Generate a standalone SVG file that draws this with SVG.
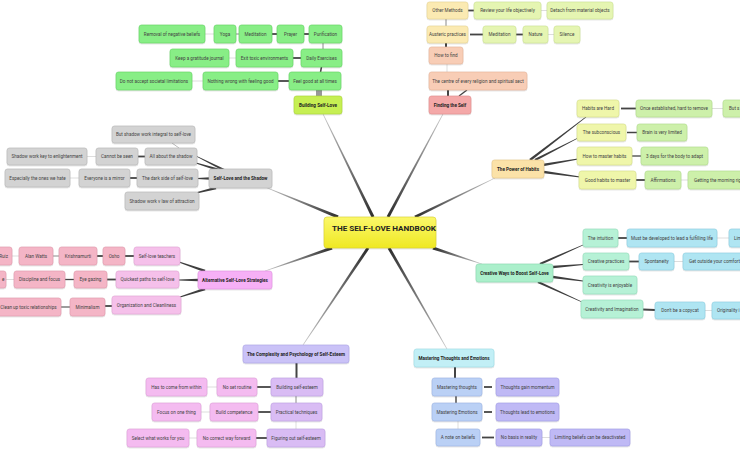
<svg xmlns="http://www.w3.org/2000/svg" width="740" height="460" viewBox="0 0 740 460">
<defs>
<filter id="sh" x="-10%" y="-30%" width="120%" height="170%"><feDropShadow dx="0" dy="0.6" stdDeviation="0.6" flood-color="#000" flood-opacity="0.25"/></filter>
<linearGradient id="gRoot" x1="0" y1="0" x2="0" y2="1"><stop offset="0" stop-color="#fbf86a"/><stop offset="1" stop-color="#efe823"/></linearGradient>
<linearGradient id="m1" gradientUnits="userSpaceOnUse" x1="373" y1="217" x2="323" y2="114"><stop offset="0" stop-color="#2e2e2e"/><stop offset="1" stop-color="#c8c8c8"/></linearGradient>
<linearGradient id="m2" gradientUnits="userSpaceOnUse" x1="388" y1="217" x2="443" y2="114"><stop offset="0" stop-color="#2e2e2e"/><stop offset="1" stop-color="#c8c8c8"/></linearGradient>
<linearGradient id="m3" gradientUnits="userSpaceOnUse" x1="415" y1="217" x2="495" y2="178"><stop offset="0" stop-color="#2e2e2e"/><stop offset="1" stop-color="#c8c8c8"/></linearGradient>
<linearGradient id="m4" gradientUnits="userSpaceOnUse" x1="338" y1="217" x2="265" y2="187"><stop offset="0" stop-color="#2e2e2e"/><stop offset="1" stop-color="#c8c8c8"/></linearGradient>
<linearGradient id="m5" gradientUnits="userSpaceOnUse" x1="332" y1="248" x2="265" y2="271"><stop offset="0" stop-color="#2e2e2e"/><stop offset="1" stop-color="#c8c8c8"/></linearGradient>
<linearGradient id="m6" gradientUnits="userSpaceOnUse" x1="368" y1="248" x2="303" y2="345"><stop offset="0" stop-color="#2e2e2e"/><stop offset="1" stop-color="#c8c8c8"/></linearGradient>
<linearGradient id="m7" gradientUnits="userSpaceOnUse" x1="389" y1="248" x2="447" y2="349"><stop offset="0" stop-color="#2e2e2e"/><stop offset="1" stop-color="#c8c8c8"/></linearGradient>
<linearGradient id="m8" gradientUnits="userSpaceOnUse" x1="433" y1="248" x2="482" y2="264"><stop offset="0" stop-color="#2e2e2e"/><stop offset="1" stop-color="#c8c8c8"/></linearGradient>
</defs>
<style>
text{font-family:Roboto,"Liberation Sans",Arial,sans-serif;font-size:4.6px;fill:#444;text-anchor:middle}
.b text{font-weight:bold;fill:#222}
.node rect{rx:2.5px;ry:2.5px;stroke-width:0.6;filter:url(#sh)}
.root rect{fill:url(#gRoot);stroke:#d9d22e;rx:3px;ry:3px}
.root text{font-size:8.1px;font-weight:bold;fill:#222;text-anchor:start}
.l1bsl rect{fill:#c6ef52;stroke:#a7d43a}
.green rect{fill:#88ee86;stroke:#62d360}
.l1find rect{fill:#f4a8a8;stroke:#e08c8c}
.peach rect{fill:#f8cdb6;stroke:#e6b398}
.yel rect{fill:#fbeab2;stroke:#e6d391}
.lgy rect{fill:#e5f5b2;stroke:#cbe291}
.l1hab rect{fill:#fbe2a8;stroke:#e6c888}
.hy rect{fill:#eff6aa;stroke:#d5df88}
.hg rect{fill:#cdf0aa;stroke:#b0db8a}
.gray rect{fill:#d3d3d3;stroke:#b5b5b5}
.l1alt rect{fill:#f6b0f6;stroke:#e092e0}
.pv rect{fill:#f5c0ea;stroke:#e0a2d4}
.pink rect{fill:#f4b5c6;stroke:#e098ab}
.l1cre rect{fill:#abefcb;stroke:#88d9ae}
.mint rect{fill:#b6f1d6;stroke:#92dcb8}
.cyan rect{fill:#afe5f2;stroke:#8acfe0}
.l1cpx rect{fill:#cac2f7;stroke:#aaa2e6}
.lp rect{fill:#d9bcf4;stroke:#be9ee3}
.pv2 rect{fill:#f4bbf0;stroke:#dd9dd9}
.l1mte rect{fill:#c2eff6;stroke:#9bdbe6}
.lb rect{fill:#bad0f5;stroke:#9ab4e4}
.peri rect{fill:#bfb9f5;stroke:#a09ae6}
.k{stroke:#444;stroke-width:1.8;fill:none}
.m{stroke:#8a8a8a;stroke-width:1;fill:none}
.t{stroke:#d4d4d4;stroke-width:0.8;fill:none}
.tp{fill:#3e3e3e}
</style>
<rect x="0" y="0" width="740" height="460" fill="#ffffff"/>
<g id="connectors">
<polygon fill="url(#m1)" points="374.35,216.34 323.27,113.87 322.73,114.13 371.65,217.66"/>
<polygon fill="url(#m2)" points="389.32,217.71 443.26,114.14 442.74,113.86 386.68,216.29"/>
<polygon fill="url(#m3)" points="415.66,218.35 495.13,178.27 494.87,177.73 414.34,215.65"/>
<polygon fill="url(#m4)" points="338.57,215.61 265.11,186.72 264.89,187.28 337.43,218.39"/>
<polygon fill="url(#m5)" points="331.51,246.58 264.9,270.72 265.1,271.28 332.49,249.42"/>
<polygon fill="url(#m6)" points="366.75,247.16 302.75,344.83 303.25,345.17 369.25,248.84"/>
<polygon fill="url(#m7)" points="387.7,248.75 446.74,349.15 447.26,348.85 390.3,247.25"/>
<polygon fill="url(#m8)" points="432.53,249.43 481.91,264.29 482.09,263.71 433.47,246.57"/>
<polygon class="tp" points="530.73,160.95 586.24,117.32 585.76,116.68 529.27,159.05"/>
<polygon class="tp" points="535.55,161.07 578.18,138.36 577.82,137.64 534.45,158.93"/>
<polygon class="tp" points="543.2,166.18 578.07,159.39 577.93,158.61 542.8,163.82"/>
<polygon class="tp" points="543.83,173.19 579.94,177.4 580.06,176.6 544.17,170.81"/>
<polygon class="tp" points="224.54,168.93 196.18,155.64 195.82,156.36 223.46,171.07"/>
<polygon class="tp" points="219.35,168.85 196.12,162.62 195.88,163.38 218.65,171.15"/>
<polygon class="tp" points="210,177.3 197,178.1 197,178.9 210,179.7"/>
<polygon class="tp" points="215.71,186.83 191.9,193.61 192.1,194.39 216.29,189.17"/>
<polygon class="tp" points="205.39,269.87 179.13,261.62 178.87,262.38 204.61,272.13"/>
<polygon class="tp" points="198,278.8 179,279.6 179,280.4 198,281.2"/>
<polygon class="tp" points="204.63,287.86 179.88,296.62 180.12,297.38 205.37,290.14"/>
<polygon class="tp" points="540.48,265.1 583.16,245.37 582.84,244.63 539.52,262.9"/>
<polygon class="tp" points="553,265.8 583,264.1 583,264.9 553,268.2"/>
<polygon class="tp" points="552.84,278.19 582.95,281.4 583.05,280.6 553.16,275.81"/>
<polygon class="tp" points="537.5,283.09 581.83,302.36 582.17,301.64 538.5,280.91"/>
<!-- Building Self-Love -->
<line class="k" style="stroke-width:1.1" x1="317" y1="90" x2="317" y2="96"/>
<line class="k" style="stroke-width:1.1" x1="319" y1="90" x2="319" y2="96"/>
<line class="k" style="stroke-width:1.1" x1="321" y1="90" x2="321" y2="96"/>
<line class="k" style="stroke-width:1.5" x1="320.5" y1="72" x2="321.5" y2="67"/>
<line class="m" x1="323" y1="43" x2="323" y2="49"/>
<line class="k" x1="304" y1="34" x2="309" y2="34"/>
<line class="k" x1="272" y1="34" x2="277" y2="34"/>
<line class="m" x1="236" y1="34" x2="239" y2="34"/>
<line class="t" x1="205" y1="34" x2="214" y2="34"/>
<line class="k" x1="293" y1="58" x2="301" y2="58"/>
<line class="t" x1="229" y1="58" x2="236" y2="58"/>
<line class="k" x1="278" y1="81" x2="289" y2="81"/>
<line class="t" x1="192" y1="81" x2="203" y2="81"/>
<!-- Finding the Self -->
<line class="k" style="stroke-width:2" x1="448" y1="90" x2="448" y2="96"/>
<line class="k" style="stroke-width:1.3" x1="459" y1="96" x2="467" y2="90"/>
<line class="t" x1="447" y1="64" x2="447" y2="72"/>
<line class="k" style="stroke-width:2" x1="446" y1="43" x2="446" y2="47"/>
<line class="m" x1="446" y1="19" x2="446" y2="26"/>
<line class="k" x1="470" y1="34.5" x2="483" y2="34.5"/>
<line class="k" x1="516" y1="34.5" x2="523" y2="34.5"/>
<line class="t" x1="548" y1="34.5" x2="554" y2="34.5"/>
<line class="k" x1="468" y1="10.5" x2="474" y2="10.5"/>
<line class="t" x1="541" y1="10.5" x2="547" y2="10.5"/>
<!-- Power of Habits -->
<line class="k" x1="621" y1="108.5" x2="636" y2="108.5"/>
<line class="t" x1="712" y1="108.5" x2="723" y2="108.5"/>
<line class="k" style="stroke-width:1.5" x1="627" y1="132.5" x2="637" y2="132.5"/>
<line class="k" style="stroke-width:1.3" x1="632" y1="156" x2="641" y2="156"/>
<line class="k" x1="636" y1="180" x2="645" y2="180"/>
<line class="t" x1="681" y1="180" x2="688" y2="180"/>
<!-- Shadow -->
<line class="m" style="stroke:#bbb" x1="172" y1="143" x2="179" y2="148"/>
<line class="k" x1="138" y1="156.5" x2="145" y2="156.5"/>
<line class="t" x1="87" y1="156.5" x2="96" y2="156.5"/>
<line class="k" x1="130" y1="178" x2="137" y2="178"/>
<line class="t" x1="70" y1="178" x2="79" y2="178"/>
<!-- Alternative -->
<line class="k" x1="125" y1="256" x2="134" y2="256"/>
<line class="k" x1="97" y1="256" x2="103" y2="256"/>
<line class="m" x1="53" y1="256" x2="59" y2="256"/>
<line class="t" x1="12" y1="256" x2="19" y2="256"/>
<line class="k" x1="107" y1="279.5" x2="116" y2="279.5"/>
<line class="k" style="stroke-width:1.3" x1="65" y1="279.5" x2="74" y2="279.5"/>
<line class="t" x1="6" y1="279.5" x2="14" y2="279.5"/>
<line class="k" x1="105" y1="306" x2="112" y2="306"/>
<line class="k" style="stroke:#666;stroke-width:1.3" x1="61" y1="307" x2="70" y2="307"/>
<!-- Creative -->
<line class="k" x1="618" y1="238" x2="627" y2="238"/>
<line class="t" x1="717" y1="238" x2="729" y2="238"/>
<line class="k" x1="629" y1="261.5" x2="639" y2="261.5"/>
<line class="t" x1="674" y1="261.5" x2="683" y2="261.5"/>
<line class="k" x1="643" y1="309.5" x2="655" y2="310"/>
<line class="t" x1="705" y1="310.5" x2="712" y2="310.5"/>
<!-- Complexity -->
<line class="k" style="stroke-width:2" x1="296.5" y1="363" x2="296.5" y2="378"/>
<line class="m" x1="296" y1="396" x2="296" y2="403"/>
<line class="t" x1="296" y1="421" x2="296" y2="429"/>
<line class="k" x1="257" y1="387" x2="271" y2="387"/>
<line class="t" x1="207" y1="387" x2="217" y2="387"/>
<line class="k" x1="258" y1="412" x2="271" y2="412"/>
<line class="t" x1="201" y1="412" x2="210" y2="412"/>
<line class="k" x1="256" y1="438" x2="267" y2="438"/>
<line class="t" x1="189" y1="438" x2="197" y2="438"/>
<!-- Mastering -->
<line class="k" style="stroke-width:2" x1="455" y1="367" x2="455" y2="378"/>
<line class="k" style="stroke-width:1.4" x1="456" y1="396" x2="456" y2="403"/>
<line class="t" x1="458" y1="421" x2="458" y2="429"/>
<line class="k" x1="484" y1="387" x2="492" y2="387"/>
<line class="k" x1="484" y1="412" x2="492" y2="412"/>
<line class="k" x1="482" y1="437.5" x2="494" y2="437.5"/>
<line class="t" x1="542" y1="437.5" x2="550" y2="437.5"/>
</g>

<g id="root" class="node root"><rect x="324" y="217" width="112" height="31"/><text x="332" y="231">THE SELF-LOVE HANDBOOK</text></g>

<g id="building-self-love" class="node l1bsl b"><rect x="294" y="96" width="48" height="18"/><text x="318" y="106.6">Building Self-Love</text></g>
<g id="feel-good" class="node green"><rect x="289" y="72" width="52" height="18"/><text x="315" y="82.6">Feel good at all times</text></g>
<g id="nothing-wrong" class="node green"><rect x="203" y="72" width="75" height="18"/><text x="240.5" y="82.6">Nothing wrong with feeling good</text></g>
<g id="do-not-accept" class="node green"><rect x="116" y="72" width="76" height="18"/><text x="154" y="82.6">Do not accept societal limitations</text></g>
<g id="daily-exercises" class="node green"><rect x="301" y="49" width="41" height="18"/><text x="321.5" y="59.6">Daily Exercises</text></g>
<g id="exit-toxic" class="node green"><rect x="236" y="49" width="57" height="18"/><text x="264.5" y="59.6">Exit toxic environments</text></g>
<g id="gratitude-journal" class="node green"><rect x="170" y="49" width="59" height="18"/><text x="199.5" y="59.6">Keep a gratitude journal</text></g>
<g id="purification" class="node green"><rect x="309" y="25" width="33" height="18"/><text x="325.5" y="35.6">Purification</text></g>
<g id="prayer" class="node green"><rect x="277" y="25" width="27" height="18"/><text x="290.5" y="35.6">Prayer</text></g>
<g id="meditation-1" class="node green"><rect x="239" y="25" width="33" height="18"/><text x="255.5" y="35.6">Meditation</text></g>
<g id="yoga" class="node green"><rect x="214" y="25" width="22" height="18"/><text x="225" y="35.6">Yoga</text></g>
<g id="removal" class="node green"><rect x="139" y="25" width="66" height="18"/><text x="172" y="35.6">Removal of negative beliefs</text></g>

<g id="finding-the-self" class="node l1find b"><rect x="429" y="96" width="42" height="18"/><text x="450" y="106.6">Finding the Self</text></g>
<g id="centre" class="node peach"><rect x="429" y="72" width="98" height="18"/><text x="478" y="82.6">The centre of every religion and spiritual sect</text></g>
<g id="how-to-find" class="node peach"><rect x="429" y="47" width="34" height="17"/><text x="446" y="57.1">How to find</text></g>
<g id="austeric" class="node yel"><rect x="427" y="26" width="41" height="17"/><text x="447.5" y="36.1">Austeric practices</text></g>
<g id="other-methods" class="node yel"><rect x="427" y="2" width="41" height="17"/><text x="447.5" y="12.1">Other Methods</text></g>
<g id="review" class="node lgy"><rect x="474" y="2" width="67" height="17"/><text x="507.5" y="12.1">Review your life objectively</text></g>
<g id="detach" class="node lgy"><rect x="547" y="2" width="66" height="17"/><text x="580" y="12.1">Detach from material objects</text></g>
<g id="meditation-2" class="node lgy"><rect x="483" y="26" width="33" height="17"/><text x="499.5" y="36.1">Meditation</text></g>
<g id="nature" class="node lgy"><rect x="523" y="26" width="25" height="17"/><text x="535.5" y="36.1">Nature</text></g>
<g id="silence" class="node lgy"><rect x="554" y="26" width="26" height="17"/><text x="567" y="36.1">Silence</text></g>

<g id="power-of-habits" class="node l1hab b"><rect x="492" y="160" width="52" height="18"/><text x="518" y="170.6">The Power of Habits</text></g>
<g id="habits-hard" class="node hy"><rect x="577" y="100" width="42" height="17"/><text x="598" y="110.1">Habits are Hard</text></g>
<g id="once-established" class="node hg"><rect x="636" y="100" width="76" height="17"/><text x="674" y="110.1">Once established, hard to remove</text></g>
<g id="but-s" class="node hg"><rect x="723" y="100" width="40" height="17"/><text x="729" y="110.1" style="text-anchor:start">But s</text></g>
<g id="subconscious" class="node hy"><rect x="577" y="124" width="49" height="17"/><text x="601.5" y="134.1">The subconscious</text></g>
<g id="brain" class="node hg"><rect x="637" y="124" width="50" height="17"/><text x="662" y="134.1">Brain is very limited</text></g>
<g id="master-habits" class="node hy"><rect x="577" y="147" width="55" height="18"/><text x="604.5" y="157.6">How to master habits</text></g>
<g id="three-days" class="node hg"><rect x="641" y="147" width="67" height="18"/><text x="674.5" y="157.6">3 days for the body to adapt</text></g>
<g id="good-habits" class="node hy"><rect x="579" y="171" width="57" height="18"/><text x="607.5" y="181.6">Good habits to master</text></g>
<g id="affirmations" class="node hg"><rect x="645" y="171" width="36" height="18"/><text x="663" y="181.6">Affirmations</text></g>
<g id="morning" class="node hg"><rect x="688" y="171" width="70" height="18"/><text x="694" y="181.6" style="text-anchor:start">Getting the morning righ</text></g>

<g id="shadow" class="node gray b"><rect x="209" y="169" width="63" height="19"/><text x="240.5" y="180.1">Self-Love and the Shadow</text></g>
<g id="integral" class="node gray"><rect x="112" y="126" width="83" height="17"/><text x="153.5" y="136.1">But shadow work integral to self-love</text></g>
<g id="all-about" class="node gray"><rect x="145" y="148" width="52" height="17"/><text x="171" y="158.1">All about the shadow</text></g>
<g id="cannot-be-seen" class="node gray"><rect x="96" y="148" width="42" height="17"/><text x="117" y="158.1">Cannot be seen</text></g>
<g id="key-enlightenment" class="node gray"><rect x="7" y="148" width="80" height="17"/><text x="47" y="158.1">Shadow work key to enlightenment</text></g>
<g id="dark-side" class="node gray"><rect x="137" y="169" width="61" height="18"/><text x="167.5" y="179.6">The dark side of self-love</text></g>
<g id="mirror" class="node gray"><rect x="79" y="169" width="51" height="18"/><text x="104.5" y="179.6">Everyone is a mirror</text></g>
<g id="ones-we-hate" class="node gray"><rect x="5" y="169" width="65" height="18"/><text x="37.5" y="179.6">Especially the ones we hate</text></g>
<g id="law-attraction" class="node gray"><rect x="125" y="192" width="74" height="18"/><text x="162" y="202.6">Shadow work v law of attraction</text></g>

<g id="alternative" class="node l1alt b"><rect x="198" y="271" width="74" height="18"/><text x="235" y="281.6">Alternative Self-Love Strategies</text></g>
<g id="teachers" class="node pv"><rect x="134" y="247" width="46" height="18"/><text x="157" y="257.6">Self-love teachers</text></g>
<g id="osho" class="node pink"><rect x="103" y="247" width="22" height="18"/><text x="114" y="257.6">Osho</text></g>
<g id="krishnamurti" class="node pink"><rect x="59" y="247" width="38" height="18"/><text x="78" y="257.6">Krishnamurti</text></g>
<g id="alan-watts" class="node pink"><rect x="19" y="247" width="34" height="18"/><text x="36" y="257.6">Alan Watts</text></g>
<g id="ruiz" class="node pink"><rect x="-30" y="247" width="42" height="18"/><text x="8" y="257.6" style="text-anchor:end">Ruiz</text></g>
<g id="quickest" class="node pv"><rect x="116" y="271" width="63" height="17"/><text x="147.5" y="281.1">Quickest paths to self-love</text></g>
<g id="eye-gazing" class="node pink"><rect x="74" y="271" width="33" height="17"/><text x="90.5" y="281.1">Eye gazing</text></g>
<g id="discipline" class="node pink"><rect x="14" y="271" width="51" height="17"/><text x="39.5" y="281.1">Discipline and focus</text></g>
<g id="clipped-e" class="node pink"><rect x="-30" y="271" width="36" height="17"/><text x="4.5" y="281.1" style="text-anchor:end">e</text></g>
<g id="organization" class="node pv"><rect x="112" y="296" width="69" height="18"/><text x="146.5" y="306.6">Organization and Cleanliness</text></g>
<g id="minimalism" class="node pink"><rect x="70" y="298" width="35" height="18"/><text x="87.5" y="308.6">Minimalism</text></g>
<g id="clean-up" class="node pink"><rect x="-5" y="298" width="66" height="18"/><text x="28.5" y="308.6">Clean up toxic relationships</text></g>

<g id="creative" class="node l1cre b"><rect x="476" y="264" width="77" height="18"/><text x="514.5" y="274.6">Creative Ways to Boost Self-Love</text></g>
<g id="intuition" class="node mint"><rect x="583" y="229" width="35" height="18"/><text x="600.5" y="239.6">The intuition</text></g>
<g id="must-be-developed" class="node cyan"><rect x="627" y="229" width="90" height="18"/><text x="672" y="239.6">Must be developed to lead a fulfilling life</text></g>
<g id="lim" class="node cyan"><rect x="729" y="229" width="30" height="18"/><text x="734" y="239.6" style="text-anchor:start">Lim</text></g>
<g id="creative-practices" class="node mint"><rect x="583" y="253" width="46" height="17"/><text x="606" y="263.1">Creative practices</text></g>
<g id="spontaneity" class="node cyan"><rect x="639" y="253" width="35" height="17"/><text x="656.5" y="263.1">Spontaneity</text></g>
<g id="comfort" class="node cyan"><rect x="683" y="253" width="70" height="17"/><text x="689" y="263.1" style="text-anchor:start">Get outside your comfort z</text></g>
<g id="enjoyable" class="node mint"><rect x="583" y="276" width="54" height="18"/><text x="610" y="286.6">Creativity is enjoyable</text></g>
<g id="imagination" class="node mint"><rect x="581" y="300" width="62" height="18"/><text x="612" y="310.6">Creativity and Imagination</text></g>
<g id="copycat" class="node cyan"><rect x="655" y="302" width="50" height="17"/><text x="680" y="312.1">Don't be a copycat</text></g>
<g id="originality" class="node cyan"><rect x="712" y="302" width="45" height="17"/><text x="717" y="312.1" style="text-anchor:start">Originality i</text></g>

<g id="complexity" class="node l1cpx b"><rect x="243" y="345" width="106" height="18"/><text x="296" y="355.6">The Complexity and Psychology of Self-Esteem</text></g>
<g id="building-esteem" class="node lp"><rect x="271" y="378" width="52" height="18"/><text x="297" y="388.6">Building self-esteem</text></g>
<g id="no-set-routine" class="node pv2"><rect x="217" y="378" width="40" height="18"/><text x="237" y="388.6">No set routine</text></g>
<g id="within" class="node pv2"><rect x="146" y="378" width="61" height="18"/><text x="176.5" y="388.6">Has to come from within</text></g>
<g id="practical" class="node lp"><rect x="271" y="403" width="51" height="18"/><text x="296.5" y="413.6">Practical techniques</text></g>
<g id="competence" class="node pv2"><rect x="210" y="403" width="48" height="18"/><text x="234" y="413.6">Build competence</text></g>
<g id="one-thing" class="node pv2"><rect x="152" y="403" width="49" height="18"/><text x="176.5" y="413.6">Focus on one thing</text></g>
<g id="figuring" class="node lp"><rect x="267" y="429" width="58" height="18"/><text x="296" y="439.6">Figuring out self-esteem</text></g>
<g id="no-correct" class="node pv2"><rect x="197" y="429" width="59" height="18"/><text x="226.5" y="439.6">No correct way forward</text></g>
<g id="select" class="node pv2"><rect x="127" y="429" width="62" height="18"/><text x="158" y="439.6">Select what works for you</text></g>

<g id="mastering" class="node l1mte b"><rect x="414" y="349" width="80" height="18"/><text x="454" y="359.6">Mastering Thoughts and Emotions</text></g>
<g id="mastering-thoughts" class="node lb"><rect x="432" y="378" width="50" height="18"/><text x="457" y="388.6">Mastering thoughts</text></g>
<g id="momentum" class="node peri"><rect x="496" y="378" width="63" height="18"/><text x="527.5" y="388.6">Thoughts gain momentum</text></g>
<g id="mastering-emotions" class="node lb"><rect x="432" y="403" width="50" height="18"/><text x="457" y="413.6">Mastering Emotions</text></g>
<g id="lead-to-emotions" class="node peri"><rect x="496" y="403" width="63" height="18"/><text x="527.5" y="413.6">Thoughts lead to emotions</text></g>
<g id="note-beliefs" class="node lb"><rect x="436" y="429" width="44" height="17"/><text x="458" y="439.1">A note on beliefs</text></g>
<g id="no-basis" class="node peri"><rect x="496" y="429" width="46" height="17"/><text x="519" y="439.1">No basis in reality</text></g>
<g id="limiting" class="node peri"><rect x="550" y="429" width="80" height="17"/><text x="590" y="439.1">Limiting beliefs can be deactivated</text></g>
</svg>
